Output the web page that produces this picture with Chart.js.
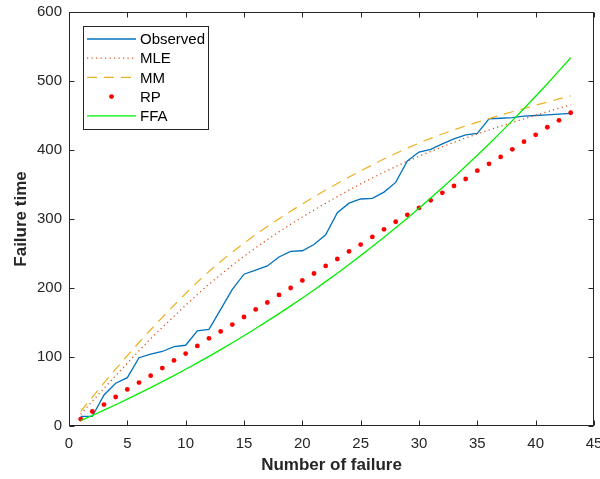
<!DOCTYPE html>
<html>
<head>
<meta charset="utf-8">
<script src="https://cdn.jsdelivr.net/npm/chart.js@4.4.1/dist/chart.umd.min.js"></script>
<style>
	html, body { margin: 0; padding: 0; background: #fff; }
</style>
</head>
<body>
<canvas id="myChart" width="600" height="479"></canvas>
<script>
// values
var failureNo = [1,2,3,4,5,6,7,8,9,10,11,12,13,14,15,16,17,18,19,20,21,22,23,24,25,26,27,28,29,30,31,32,33,34,35,36,37,38,39,40,41,42,43];
var observed = [14,14,45,62,70,99,104,108,115,117,138,140,169,198,220,226,232,245,253,254,263,277,309,323,329,330,339,353,384,397,401,409,416,422,424,445,446,447,449,450,451,452,453];
var mle = [17,36,54.5,73,91,109,126.5,143,159,175,190.5,205.5,219.5,233,246,258.3,270.1,281.4,292.3,302.8,313,322.9,332.5,341.8,350.8,359.5,367.9,376,383.8,391,397.8,404.7,411.2,417.4,423.3,429,434.5,439.9,445.2,450.4,455.5,460.5,465.4];
var mm = [21,42,62.5,82.5,102,121,139.5,157.5,175,192,208.5,224,238.5,252,265,277.3,289.1,300.4,311.3,321.8,332,341.9,351.5,360.8,369.8,378.5,386.9,395,402.8,410,416.8,423.2,429.2,434.9,440.3,445.5,450.5,455.4,460.2,464.9,469.5,474,478.4];
var rp = [10,21,31,42,53,63,73,84,95,105,116,127,137,147,158,169,179,190,200,211,221,232,242,253,263,274,285,296,306,316,327,338,348,358,370,380,390,401,412,422,433,443,454];
var ffa = [7.7,15.2,22.9,30.8,38.9,47.2,55.6,64.3,73.1,82.2,91.5,101,110.7,120.6,130.8,141.3,152,162.9,174.1,185.5,197.2,209.2,221.5,234,246.9,260,273.4,287.2,301.2,315.6,330.3,345.3,360.7,376.4,392.4,408.8,425.5,442.6,460.1,477.9,496.1,514.7,533.7];

var xTicks = [0, 45, 5];   // min, max, step
var yTicks = [0, 600, 100];

var fontName = "'Liberation Sans', Arial, sans-serif";
var axisColor = '#262626';

function pts(ys) {
	return ys.map((y, i) => ({x: failureNo[i], y: y}));
};

// matlab style box with inward ticks
var axesBox = {
	id: 'axesBox',
	afterDatasetsDraw: function(chart) {
		var ctx = chart.ctx;
		var a = chart.chartArea;
		var l = Math.round(a.left) + 0.5, r = Math.round(a.right) - 0.5;
		var t = Math.round(a.top) + 0.5, b = Math.round(a.bottom) - 0.5;
		ctx.save();
		ctx.strokeStyle = axisColor;
		ctx.lineWidth = 1;
		ctx.strokeRect(l, t, r - l, b - t);
		ctx.beginPath();
		chart.scales.x.ticks.forEach(function(tk) {
			var px = Math.round(chart.scales.x.getPixelForValue(tk.value)) + 0.5;
			ctx.moveTo(px, b); ctx.lineTo(px, b - 5);
			ctx.moveTo(px, t); ctx.lineTo(px, t + 5);
		});
		chart.scales.y.ticks.forEach(function(tk) {
			var py = Math.round(chart.scales.y.getPixelForValue(tk.value)) + 0.5;
			ctx.moveTo(l, py); ctx.lineTo(l + 5, py);
			ctx.moveTo(r, py); ctx.lineTo(r - 5, py);
		});
		ctx.stroke();
		ctx.restore();
	}
};

// legend drawn inside the axes, top left
var boxLegend = {
	id: 'boxLegend',
	afterDraw: function(chart) {
		var ctx = chart.ctx;
		var a = chart.chartArea;
		var sets = chart.data.datasets;
		var x0 = a.left + 14, y0 = a.top + 14;
		var w = 125, rowH = 19.2;
		var h = sets.length * rowH + 7;
		ctx.save();
		ctx.fillStyle = '#fff';
		ctx.fillRect(x0, y0, w, h);
		ctx.strokeStyle = axisColor;
		ctx.lineWidth = 1;
		ctx.strokeRect(Math.round(x0) + 0.5, Math.round(y0) + 0.5, w, h);
		ctx.font = '15px ' + fontName;
		ctx.textBaseline = 'middle';
		ctx.textAlign = 'left';
		for (let i = 0; i < sets.length; i++) {
			var ds = sets[i];
			var cy = y0 + 13 + i * rowH;
			if (ds.showLine === false) {
				ctx.fillStyle = ds.pointBackgroundColor;
				ctx.beginPath();
				ctx.arc(x0 + 28.5, cy, ds.pointRadius, 0, Math.PI * 2);
				ctx.fill();
			} else {
				ctx.strokeStyle = ds.borderColor;
				ctx.lineWidth = ds.borderWidth;
				ctx.setLineDash(ds.borderDash || []);
				ctx.beginPath();
				ctx.moveTo(x0 + 4, cy);
				ctx.lineTo(x0 + 53, cy);
				ctx.stroke();
				ctx.setLineDash([]);
			}
			ctx.fillStyle = '#000';
			ctx.fillText(ds.label, x0 + 57, cy + 1);
		}
		ctx.restore();
	}
};

var ctx = document.getElementById('myChart');
var chart = new Chart(ctx, {
	type: 'line',
	data: {
		datasets: [{
			label: 'Observed',
			data: pts(observed),
			borderColor: '#0072BD',
			borderWidth: 1.3,
			pointRadius: 0,
			order: 5
		}, {
			label: 'MLE',
			data: pts(mle),
			borderColor: '#D95319',
			borderWidth: 1.3,
			borderDash: [1.2, 3.3],
			pointRadius: 0,
			order: 4
		}, {
			label: 'MM',
			data: pts(mm),
			borderColor: '#EDB120',
			borderWidth: 1.2,
			borderDash: [10, 7],
			pointRadius: 0,
			order: 3
		}, {
			label: 'RP',
			data: pts(rp),
			showLine: false,
			borderColor: '#FF0000',
			pointBackgroundColor: '#FF0000',
			pointBorderWidth: 0,
			pointRadius: 2.4,
			order: 2
		}, {
			label: 'FFA',
			data: pts(ffa),
			borderColor: '#00F000',
			borderWidth: 1.3,
			pointRadius: 0,
			order: 1
		}]
	},
	options: {
		responsive: false,
		animation: false,
		devicePixelRatio: 1,
		layout: { padding: { left: 0, right: 6, top: 12, bottom: 0 } },
		plugins: {
			legend: { display: false },
			tooltip: { enabled: false }
		},
		scales: {
			x: {
				type: 'linear',
				min: xTicks[0],
				max: xTicks[1],
				grid: { display: false, drawTicks: false },
				border: { display: false },
				ticks: { stepSize: xTicks[2], padding: 9, maxRotation: 0, autoSkip: false, color: axisColor, font: { family: fontName, size: 15 } },
				title: { display: true, text: 'Number of failure', color: axisColor, font: { family: fontName, size: 17, weight: 'bold' }, padding: { top: 0, bottom: 3 } },
				afterFit: function(s) { s.height = 53; s.paddingLeft = 0; s.paddingRight = 0; }
			},
			y: {
				min: yTicks[0],
				max: yTicks[1],
				grid: { display: false, drawTicks: false },
				border: { display: false },
				ticks: { stepSize: yTicks[2], padding: 7, color: axisColor, font: { family: fontName, size: 15 } },
				title: { display: true, text: 'Failure time', color: axisColor, font: { family: fontName, size: 17, weight: 'bold' }, padding: { top: 11, bottom: 0 } },
				afterFit: function(s) { s.width = 69; s.paddingTop = 0; s.paddingBottom = 0; }
			}
		}
	},
	plugins: [axesBox, boxLegend]
});
</script>
</body>
</html>
